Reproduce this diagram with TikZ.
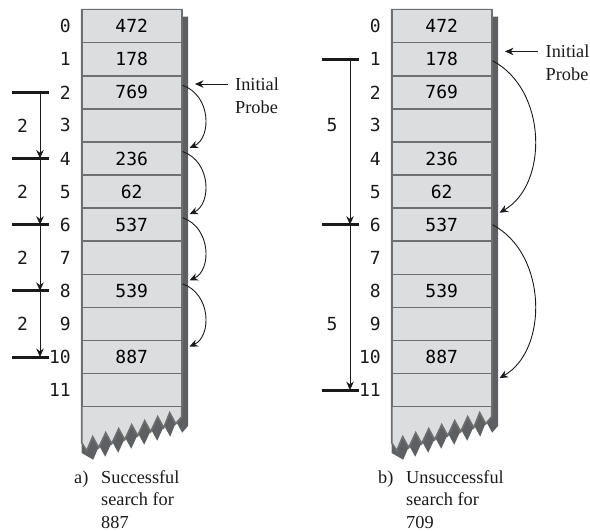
\documentclass[tikz,border=0pt]{standalone}
\usepackage{fontspec}
\setmainfont{Liberation Serif}
\newfontfamily\monof{DejaVu Sans Mono}
\usetikzlibrary{arrows.meta,calc}
\definecolor{cellfill}{HTML}{DCDDDF}
\definecolor{cellline}{HTML}{6E6F71}
\definecolor{shadowc}{HTML}{5E5F62}
\definecolor{inkc}{HTML}{1A1A1A}
\newcommand\rowc[1]{9.6+33.09*(#1+0.5)}
\newcommand\zigpath{(100,416.7)
      -- (94,423.7) -- (88,412.7) -- (82,427.7) -- (76,416.7) -- (69,431.7)
      -- (63,420.7) -- (56,435.7) -- (50,424.7) -- (43,439.7) -- (37,428.7)
      -- (30,443.7) -- (24,432.7) -- (17,447.7) -- (11,436.7) -- (5,450.7)
      -- (0,442.7)}
\newcommand\tablebody[1]{%
  \begin{scope}[shift={(#1,0)}]
    \fill[shadowc] (6.5,16.6) -- (106.5,16.6) -- (106.5,409.7) -- 
      ([shift={(6.5,9)}]100,416.7)
      -- ([shift={(6.5,9)}]94,423.7) -- ([shift={(6.5,9)}]88,412.7) -- ([shift={(6.5,9)}]82,427.7)
      -- ([shift={(6.5,9)}]76,416.7) -- ([shift={(6.5,9)}]69,431.7) -- ([shift={(6.5,9)}]63,420.7)
      -- ([shift={(6.5,9)}]56,435.7) -- ([shift={(6.5,9)}]50,424.7) -- ([shift={(6.5,9)}]43,439.7)
      -- ([shift={(6.5,9)}]37,428.7) -- ([shift={(6.5,9)}]30,443.7) -- ([shift={(6.5,9)}]24,432.7)
      -- ([shift={(6.5,9)}]17,447.7) -- ([shift={(6.5,9)}]11,436.7) -- ([shift={(6.5,9)}]5,450.7)
      -- (0,453) -- (0,400) -- cycle;
    \filldraw[fill=cellfill, draw=cellline, line width=1.6pt, line join=miter]
      (0,9.6) -- (100,9.6) -- \zigpath -- cycle;
  \end{scope}}
\begin{document}
\begin{tikzpicture}[x=1pt,y=-1pt,
  cell/.style={draw=cellline, line width=1.6pt, fill=cellfill, minimum width=100pt,
    minimum height=33.09pt, inner sep=0pt, font=\monof\fontsize{18}{20}\selectfont},
  idx/.style={inner sep=0pt, font=\monof\fontsize{18}{20}\selectfont, text=inkc},
  bar/.style={line width=3pt, draw=inkc},
  arr/.style={draw=inkc, line width=0.9pt, -{Stealth[length=8.5pt,width=7.5pt]}},
  serif/.style={inner sep=0pt, font=\fontsize{18.3}{22}\selectfont, text=inkc}]
\useasboundingbox (0,0) rectangle (590,531);

% ---------- tables ----------
\tablebody{81.7}
\tablebody{391.7}
\foreach \i/\v in {0/472,1/178,2/769,3/,4/236,5/62,6/537,7/,8/539,9/,10/887,11/}{
  \node[cell] (La\i) at (131.7,{\rowc{\i}}) {\v};
  \node[cell] (Ra\i) at (441.7,{\rowc{\i}}) {\v};
  \node[idx, anchor=east] (Li\i) at (71,{\rowc{\i}}) {\i};
  \node[idx, anchor=east] (Ri\i) at (381,{\rowc{\i}}) {\i};
}

% ---------- left step markers ----------
\foreach \i in {2,4,6,8,10}{
  \coordinate (Lb\i) at (40,{\rowc{\i}});
  \draw[bar] ($(Lb\i)+(-28,0)$) -- ($(Lb\i)+(9,0)$);
}
\draw[arr] (Lb2) -- (Lb4);
\draw[arr] (Lb4) -- (Lb6);
\draw[arr] (Lb6) -- (Lb8);
\draw[arr] (Lb8) -- (Lb10);
\foreach \i in {3,5,7,9}{
  \node[idx] (Ls\i) at (22.5,{\rowc{\i}}) {2};
}

% ---------- right step markers ----------
\foreach \i in {1,6,11}{
  \coordinate (Rb\i) at (350,{\rowc{\i}});
  \draw[bar] ($(Rb\i)+(-28.3,0)$) -- ($(Rb\i)+(9.3,0)$);
}
\draw[arr] (Rb1) -- (Rb6);
\draw[arr] (Rb6) -- (Rb11);
\node[idx] (Rs3) at (332,{\rowc{3}}) {5};
\node[idx] (Rs9) at (332,{\rowc{9}}) {5};

% ---------- probe arrows ----------
\draw[arr] ($(La2.east)+(0,-7)$) .. controls +(29,10) and +(22,-10) .. ($(La4.east)+(7,-10.5)$);
\draw[arr] ($(La4.east)+(0,-7)$) .. controls +(29,10) and +(22,-10) .. ($(La6.east)+(7,-10.5)$);
\draw[arr] ($(La6.east)+(0,-7)$) .. controls +(29,10) and +(22,-10) .. ($(La8.east)+(7,-10.5)$);
\draw[arr] ($(La8.east)+(0,-7)$) .. controls +(29,10) and +(22,-10) .. ($(La10.east)+(7,-10.5)$);

\draw[arr] ($(Ra1.east)+(0,1.5)$) .. controls +(55,29) and +(49,-28) .. ($(Ra6.east)+(7,-12)$);
\draw[arr] ($(Ra6.east)+(0,0)$) .. controls +(55,29) and +(49,-28) .. ($(Ra11.east)+(7,-12)$);

% ---------- Initial Probe labels ----------
\node[serif, anchor=base west] (pL1) at (235,90.3) {Initial};
\node[serif, anchor=base west] (pL2) at (235,113) {Probe};
\coordinate (tipL) at (195,84.3);
\draw[arr] ([xshift=-7pt]pL1.west) -- (pL1.west -| tipL);

\node[serif, anchor=base west] (pR1) at (545.5,57.7) {Initial};
\node[serif, anchor=base west] (pR2) at (545.5,80.5) {Probe};
\coordinate (tipR) at (505,51.7);
\draw[arr] ([xshift=-8pt]pR1.west) -- (pR1.west -| tipR);

% ---------- captions ----------
\node[serif, anchor=base west] (ca) at (74,483) {a)};
\node[serif, anchor=base west] (ca1) at (101,483) {Successful};
\node[serif, anchor=base west] (ca2) at (101,505.5) {search for};
\node[serif, anchor=base west] (ca3) at (101,528) {887};

\node[serif, anchor=base west] (cb) at (378,483) {b)};
\node[serif, anchor=base west] (cb1) at (406,483) {Unsuccessful};
\node[serif, anchor=base west] (cb2) at (406,505.5) {search for};
\node[serif, anchor=base west] (cb3) at (406,528) {709};
\end{tikzpicture}
\end{document}
